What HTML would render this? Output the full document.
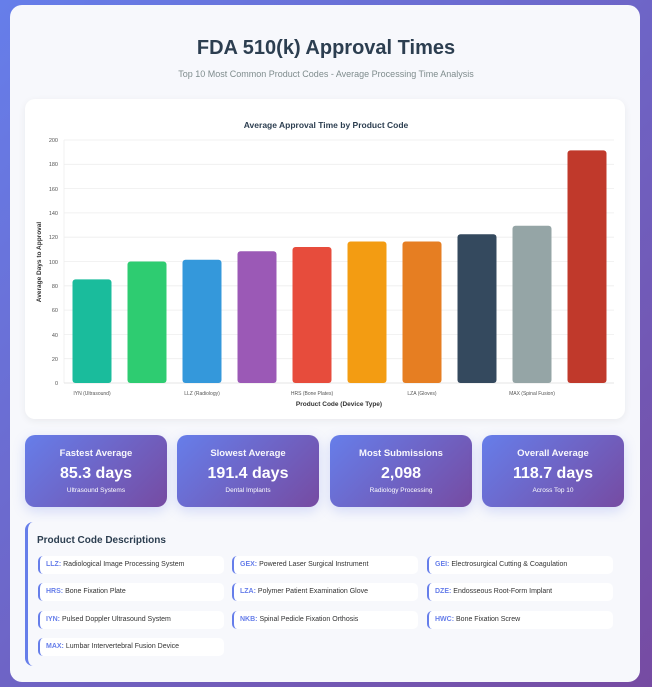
<!DOCTYPE html>
<html><head><meta charset="utf-8"><style>
*{margin:0;padding:0;box-sizing:border-box}
body{width:652px;height:687px;background:linear-gradient(135deg,#667eea,#764ba2);font-family:"Liberation Sans",sans-serif;position:relative;overflow:hidden}
.wrap{position:absolute;left:10px;top:5px;width:630px;height:677px;background:#f7f8fc;border-radius:12px}
.abs{position:absolute}
h1{position:absolute;left:0;width:652px;top:37px;text-align:center;font-size:20px;color:#2c3e50;font-weight:bold}
.sub{position:absolute;left:0;width:652px;top:69px;text-align:center;font-size:9px;color:#7f8c8d}
.card{position:absolute;background:#fff;border-radius:10px;box-shadow:0 2px 8px rgba(0,0,0,.06)}
.stat{position:absolute;top:435px;height:72px;width:142px;border-radius:10px;background:linear-gradient(135deg,#667eea,#764ba2);color:#fff;text-align:center;box-shadow:0 4px 12px rgba(102,126,234,.25)}
.stat .t{margin-top:13px;font-size:9.5px;font-weight:bold;opacity:.95}
.stat .v{margin-top:6px;font-size:16px;font-weight:bold}
.stat .s{margin-top:4px;font-size:6.5px}
.desc{position:absolute;left:25px;top:522px;width:600px;height:144px;background:#f7f8fc;border-left:3px solid #667eea;border-radius:8px}
.desc h3{position:absolute;left:9px;top:13px;font-size:10px;color:#2c3e50}
.it{position:absolute;width:186px;height:18px;background:#fff;border-left:2px solid #667eea;border-radius:5px;font-size:7px;color:#333;padding-left:6px;line-height:18px;white-space:nowrap}
.it b{color:#667eea}
</style></head><body>
<div class="wrap"></div>
<h1>FDA 510(k) Approval Times</h1>
<div class="sub">Top 10 Most Common Product Codes - Average Processing Time Analysis</div>
<div class="card" style="left:25px;top:99px;width:600px;height:320px"></div>
<svg class="abs" style="left:0;top:0" width="652" height="687" font-family="Liberation Sans, sans-serif">
<text x="326" y="128" text-anchor="middle" font-size="8.5" font-weight="bold" fill="#2c3e50">Average Approval Time by Product Code</text>
<g stroke="#eee" stroke-width="0.8">
<line x1="64" x2="614" y1="140" y2="140"/><line x1="64" x2="614" y1="164.3" y2="164.3"/><line x1="64" x2="614" y1="188.6" y2="188.6"/><line x1="64" x2="614" y1="212.9" y2="212.9"/><line x1="64" x2="614" y1="237.2" y2="237.2"/><line x1="64" x2="614" y1="261.5" y2="261.5"/><line x1="64" x2="614" y1="285.8" y2="285.8"/><line x1="64" x2="614" y1="310.1" y2="310.1"/><line x1="64" x2="614" y1="334.4" y2="334.4"/><line x1="64" x2="614" y1="358.7" y2="358.7"/>
<line x1="64" x2="64" y1="140" y2="383"/>
</g>
<line x1="64" x2="614" y1="383" y2="383" stroke="#ddd" stroke-width="0.8"/>
<g font-size="5.5" fill="#555" text-anchor="end">
<text x="58" y="142">200</text><text x="58" y="166">180</text><text x="58" y="191">160</text><text x="58" y="215">140</text><text x="58" y="239">120</text><text x="58" y="264">100</text><text x="58" y="288">80</text><text x="58" y="312">60</text><text x="58" y="337">40</text><text x="58" y="361">20</text><text x="58" y="385">0</text>
</g>
<text transform="translate(41,262) rotate(-90)" text-anchor="middle" font-size="6.5" font-weight="bold" fill="#333">Average Days to Approval</text>
<g>
<rect x="72.5" y="279.4" width="39" height="103.6" rx="3" fill="#1abc9c"/>
<rect x="127.5" y="261.5" width="39" height="121.5" rx="3" fill="#2ecc71"/>
<rect x="182.5" y="259.7" width="39" height="123.3" rx="3" fill="#3498db"/>
<rect x="237.5" y="251.2" width="39" height="131.8" rx="3" fill="#9b59b6"/>
<rect x="292.5" y="247" width="39" height="136" rx="3" fill="#e74c3c"/>
<rect x="347.5" y="241.5" width="39" height="141.5" rx="3" fill="#f39c12"/>
<rect x="402.5" y="241.5" width="39" height="141.5" rx="3" fill="#e67e22"/>
<rect x="457.5" y="234.2" width="39" height="148.8" rx="3" fill="#34495e"/>
<rect x="512.5" y="225.7" width="39" height="157.3" rx="3" fill="#95a5a6"/>
<rect x="567.5" y="150.4" width="39" height="232.6" rx="3" fill="#c0392b"/>
</g>
<g font-size="5" fill="#555" text-anchor="middle">
<text x="92" y="395">IYN (Ultrasound)</text><text x="202" y="395">LLZ (Radiology)</text><text x="312" y="395">HRS (Bone Plates)</text><text x="422" y="395">LZA (Gloves)</text><text x="532" y="395">MAX (Spinal Fusion)</text>
</g>
<text x="339" y="406" text-anchor="middle" font-size="6.5" font-weight="bold" fill="#333">Product Code (Device Type)</text>
</svg>
<div class="stat" style="left:25px"><div class="t">Fastest Average</div><div class="v">85.3 days</div><div class="s">Ultrasound Systems</div></div>
<div class="stat" style="left:177px"><div class="t">Slowest Average</div><div class="v">191.4 days</div><div class="s">Dental Implants</div></div>
<div class="stat" style="left:330px"><div class="t">Most Submissions</div><div class="v">2,098</div><div class="s">Radiology Processing</div></div>
<div class="stat" style="left:482px"><div class="t">Overall Average</div><div class="v">118.7 days</div><div class="s">Across Top 10</div></div>
<div class="desc"><h3>Product Code Descriptions</h3></div>
<div class="it" style="left:38px;top:556px"><b>LLZ:</b> Radiological Image Processing System</div>
<div class="it" style="left:232px;top:556px"><b>GEX:</b> Powered Laser Surgical Instrument</div>
<div class="it" style="left:427px;top:556px"><b>GEI:</b> Electrosurgical Cutting &amp; Coagulation</div>
<div class="it" style="left:38px;top:583px"><b>HRS:</b> Bone Fixation Plate</div>
<div class="it" style="left:232px;top:583px"><b>LZA:</b> Polymer Patient Examination Glove</div>
<div class="it" style="left:427px;top:583px"><b>DZE:</b> Endosseous Root-Form Implant</div>
<div class="it" style="left:38px;top:611px"><b>IYN:</b> Pulsed Doppler Ultrasound System</div>
<div class="it" style="left:232px;top:611px"><b>NKB:</b> Spinal Pedicle Fixation Orthosis</div>
<div class="it" style="left:427px;top:611px"><b>HWC:</b> Bone Fixation Screw</div>
<div class="it" style="left:38px;top:638px"><b>MAX:</b> Lumbar Intervertebral Fusion Device</div>
</body></html>
